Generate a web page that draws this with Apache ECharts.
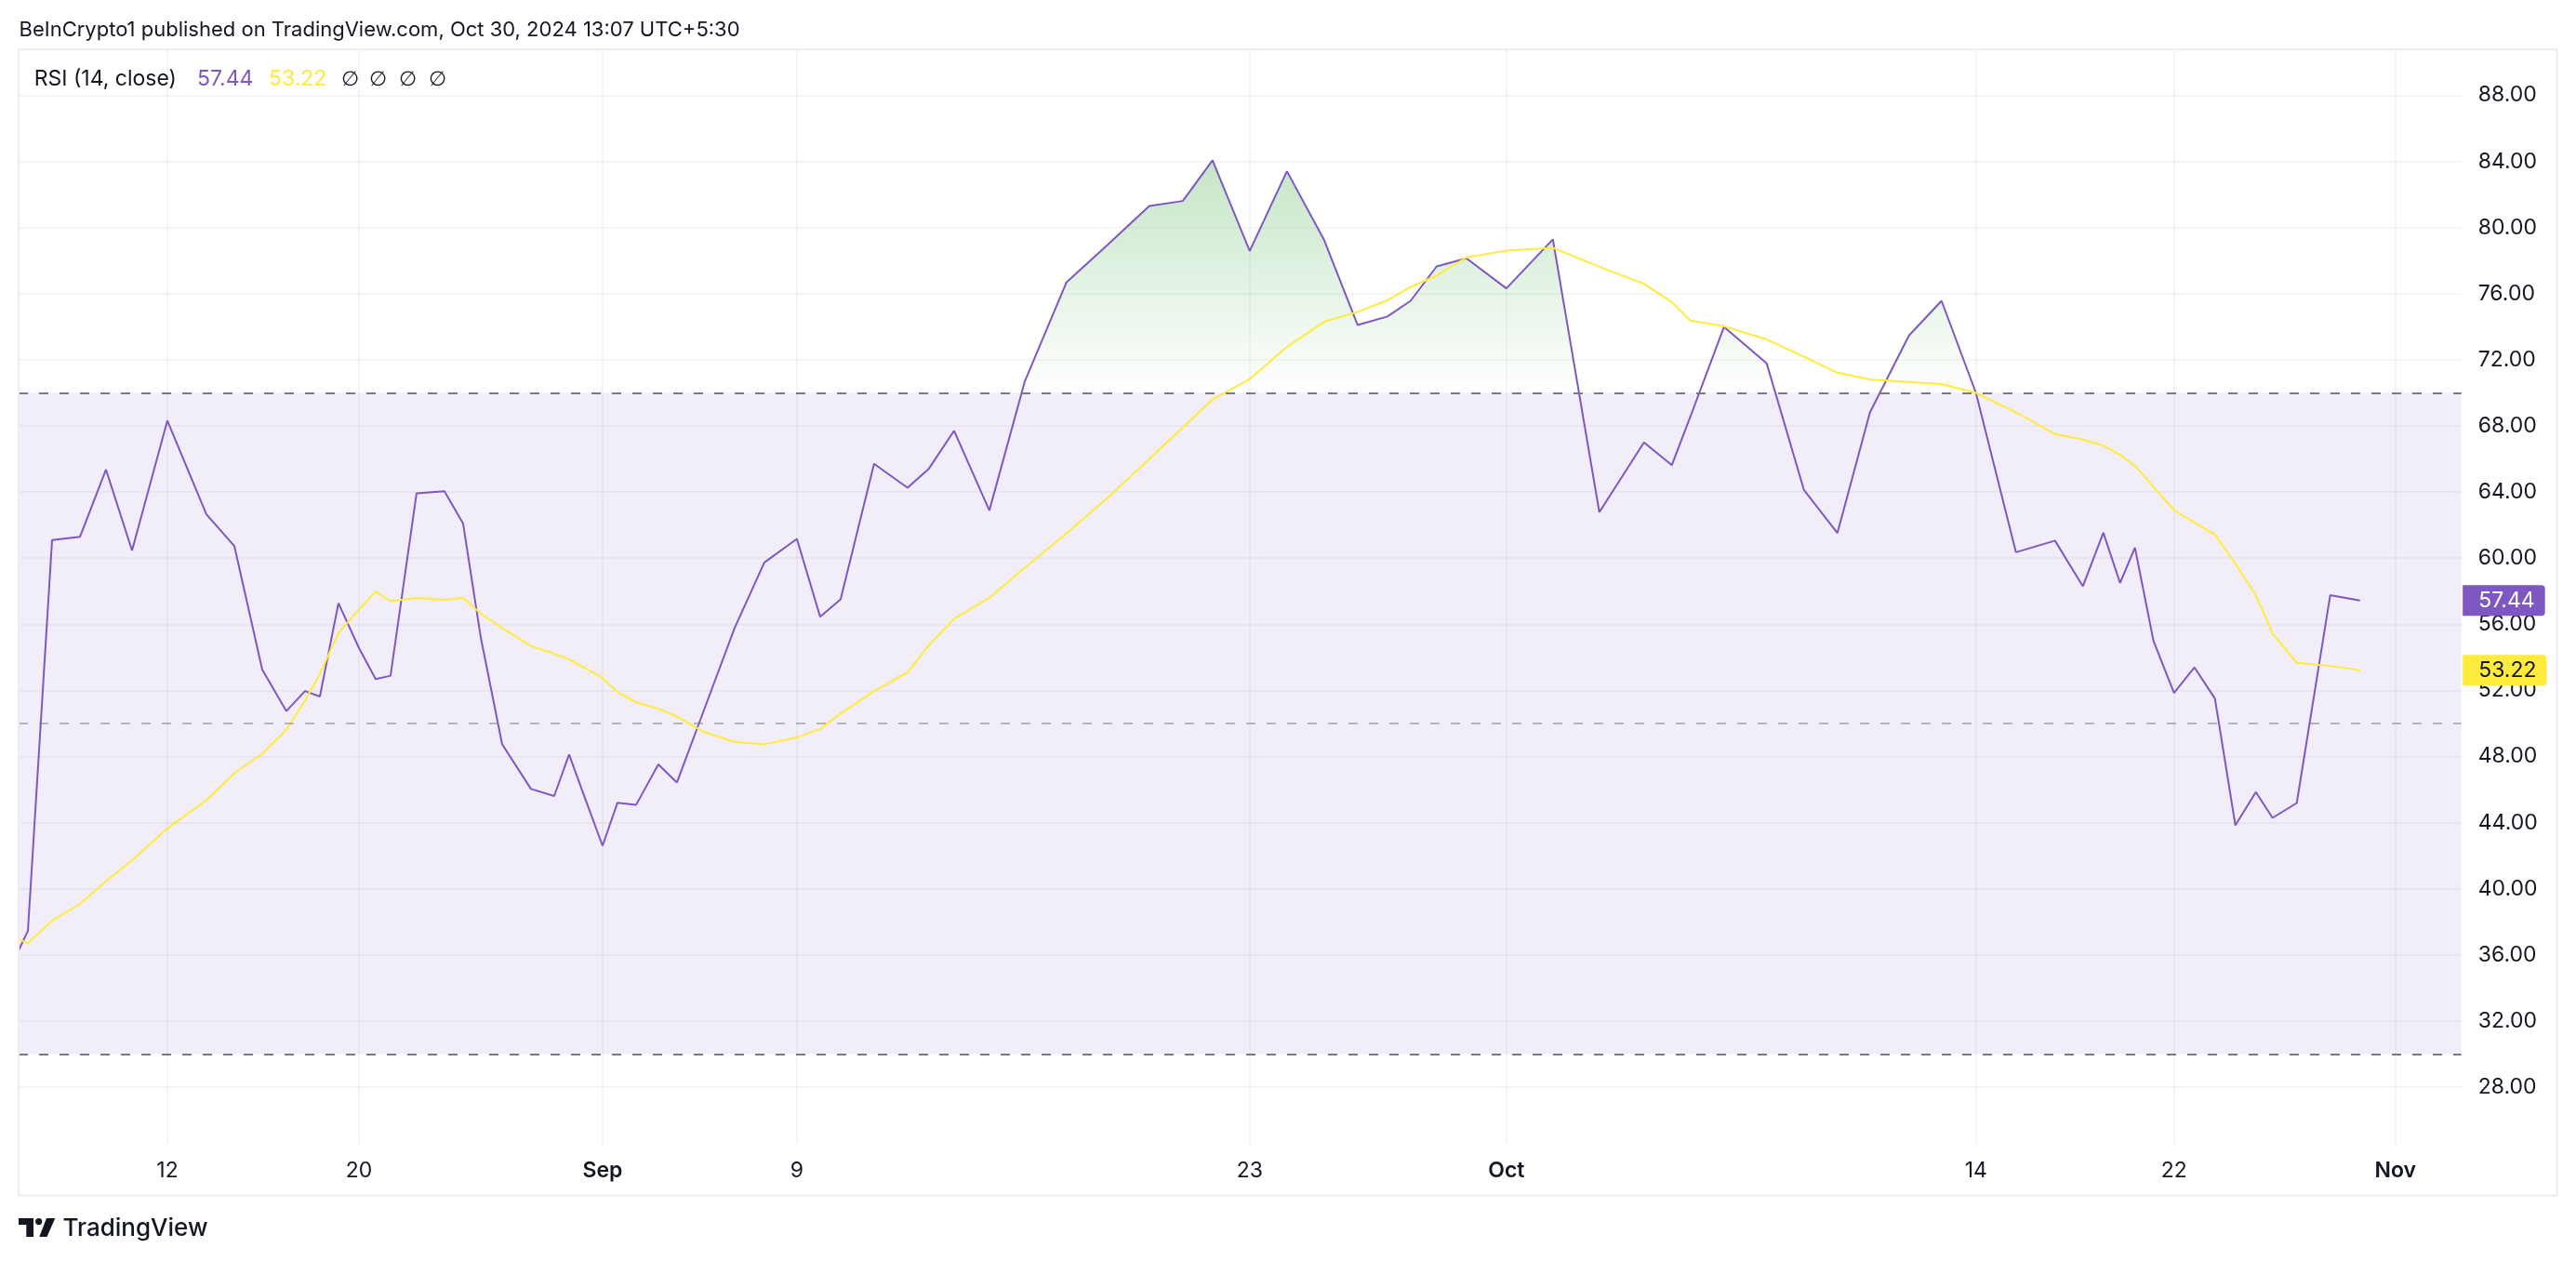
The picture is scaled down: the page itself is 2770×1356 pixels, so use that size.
<!DOCTYPE html>
<html>
<head>
<meta charset="utf-8">
<script src="https://cdn.jsdelivr.net/npm/echarts@6/dist/echarts.min.js"></script>
<style>
html,body{margin:0;padding:0;background:#ffffff;}
#chart{width:2770px;height:1356px;}
</style>
</head>
<body>
<div id="chart"></div>
<script>
// ---------------- data ----------------
const dates = [
 '08-06','08-07','08-08','08-09','08-10','08-11','08-12','08-13','08-14','08-15',
 '08-16','08-17','08-18','08-19','08-20','08-21','08-22','08-23','08-24','08-25',
 '08-26','08-27','08-28','08-29','08-30','08-31','09-01','09-02','09-03','09-04',
 '09-05','09-06','09-07','09-08','09-09','09-10','09-11','09-12','09-13','09-14',
 '09-15','09-16','09-17','09-18','09-19','09-20','09-21','09-22','09-23','09-24',
 '09-25','09-26','09-27','09-28','09-29','09-30','10-01','10-02','10-03','10-04',
 '10-05','10-06','10-07','10-08','10-09','10-10','10-11','10-12','10-13','10-14',
 '10-15','10-16','10-17','10-18','10-19','10-20','10-21','10-22','10-23','10-24',
 '10-25','10-26','10-27','10-28','10-29','10-30'
];
// position of each daily bar on the (non-uniform) time scale
const barPos = [
 0.0,1.0,3.6,6.6,9.4,12.2,16.0,20.2,23.2,26.2,
 28.8,30.8,32.4,34.4,36.6,38.4,40.0,42.8,45.8,47.8,
 49.7,52.0,55.1,57.6,59.2,61.0,62.8,64.4,66.4,68.8,
 70.8,73.7,77.0,80.2,83.7,86.2,88.4,92.0,95.6,97.9,
 100.6,104.4,108.2,112.7,117.2,121.6,125.2,128.4,132.4,136.4,
 140.4,144.0,147.2,149.7,152.5,155.7,160.0,165.0,170.0,174.8,
 177.8,179.8,183.4,188.0,192.0,195.6,199.1,203.3,206.8,210.5,
 214.8,219.0,222.0,224.2,226.0,227.6,229.6,231.8,234.0,236.2,
 238.4,240.6,242.4,245.0,248.6,251.8
];
const rsi = [
 36.27,37.45,61.09,61.29,65.36,60.46,68.32,62.65,60.74,53.26,
 50.75,51.96,51.63,57.28,54.57,52.69,52.89,63.93,64.05,62.10,
 55.22,48.75,46.04,45.61,48.12,45.35,42.60,45.20,45.07,47.52,
 46.43,50.80,55.77,59.74,61.17,56.46,57.51,65.71,64.26,65.42,
 67.71,62.89,70.68,76.70,79.00,81.31,81.61,84.07,78.59,83.41,
 79.25,74.11,74.62,75.57,77.65,78.14,76.32,79.29,62.78,67.00,
 65.63,68.58,73.99,71.78,64.13,61.52,68.82,73.47,75.57,70.00,
 60.36,61.06,58.30,61.54,58.50,60.64,54.98,51.85,53.39,51.51,
 43.84,45.85,44.29,45.19,57.76,57.44
];
const rsiMA = [
 36.95,36.70,38.08,39.08,40.46,41.72,43.65,45.36,46.99,48.17,
 49.62,51.38,53.01,55.47,56.90,57.98,57.40,57.60,57.48,57.60,
 56.65,55.77,54.69,54.22,53.89,53.32,52.76,51.90,51.29,50.89,
 50.42,49.49,48.89,48.74,49.15,49.67,50.60,51.96,53.09,54.74,
 56.33,57.60,59.42,61.50,63.70,66.00,67.90,69.60,70.84,72.78,
 74.30,74.90,75.60,76.40,77.10,78.20,78.60,78.78,77.63,76.60,
 75.49,74.37,74.03,73.23,72.19,71.22,70.81,70.66,70.53,70.00,
 68.82,67.51,67.19,66.81,66.25,65.60,64.31,62.91,62.16,61.43,
 59.67,57.76,55.45,53.67,53.48,53.22
];
const xTickPos    = [16.0, 36.6, 62.8, 83.7, 132.4, 160.0, 210.5, 231.8, 255.6];
const xTickLabels = ['12', '20', 'Sep', '9', '23', 'Oct', '14', '22', 'Nov'];
const monthLabels = ['Sep', 'Oct', 'Nov'];
const yTicks = [28,32,36,40,44,48,52,56,60,64,68,72,76,80,84,88];
const bandUpper = 70, bandMiddle = 50, bandLower = 30;

// ---------------- layout / style ----------------
const W = 2770, H = 1356;
const PANE = {left: 20, top: 53.3, right: 2646.7, bottom: 1230};
const X_MIN = 0, X_MAX = 262.7;
const Y_MIN = 24.57, Y_MAX = 90.77;
const FONT = 'Inter, "Noto Sans", Roboto, sans-serif';
const TXT = '#131722';
const PURPLE = '#7e57c2';
const YELLOW = '#ffeb3b';
const GRIDC = 'rgba(0,0,0,0.055)';

const yPix = v => PANE.top + (Y_MAX - v) / (Y_MAX - Y_MIN) * (PANE.bottom - PANE.top);

const lastRsi = rsi[rsi.length - 1];
const lastMA = rsiMA[rsiMA.length - 1];

const rsiData = barPos.map((x, i) => [x, rsi[i]]);
const maData = barPos.map((x, i) => [x, rsiMA[i]]);

const chart = echarts.init(document.getElementById('chart'), null, {renderer: 'canvas', width: W, height: H});

function tagLabel(bg, fg) {
  return {
    show: true, position: 'end', distance: 1.5,
    formatter: p => Number(p.value).toFixed(2),
    backgroundColor: bg, color: fg,
    fontFamily: FONT, fontSize: 23, lineHeight: 23,
    padding: [5, 11, 5, 17],
    borderRadius: [0, 4, 4, 0]
  };
}

const option = {
  animation: false,
  backgroundColor: '#ffffff',
  grid: {
    left: PANE.left, right: W - PANE.right, top: PANE.top, bottom: H - PANE.bottom,
    containLabel: false, outerBoundsMode: 'none'
  },
  xAxis: {
    type: 'value', min: X_MIN, max: X_MAX,
    axisLine: {show: false}, axisTick: {show: false, customValues: xTickPos},
    splitLine: {show: true, lineStyle: {color: GRIDC, width: 1.5}},
    axisLabel: {
      show: true, customValues: xTickPos, margin: 18,
      fontFamily: FONT, fontSize: 23, color: TXT,
      formatter: function (v) {
        let best = 0, d = Infinity;
        xTickPos.forEach((p, i) => { if (Math.abs(p - v) < d) { d = Math.abs(p - v); best = i; } });
        const t = xTickLabels[best];
        return monthLabels.indexOf(t) >= 0 ? '{m|' + t + '}' : t;
      },
      rich: {m: {fontFamily: FONT, fontSize: 23, fontWeight: 600, color: TXT}}
    }
  },
  yAxis: {
    type: 'value', position: 'right', min: Y_MIN, max: Y_MAX,
    axisLine: {show: false}, axisTick: {show: false, customValues: yTicks},
    splitLine: {show: true, lineStyle: {color: GRIDC, width: 1.5}},
    axisLabel: {
      show: true, customValues: yTicks, margin: 18,
      fontFamily: FONT, fontSize: 23, color: TXT,
      formatter: v => Number(v).toFixed(2)
    }
  },
  series: [
    {
      name: 'levels', type: 'line', data: [], z: 1, silent: true,
      markArea: {
        silent: true,
        itemStyle: {color: 'rgba(126,87,194,0.1)'},
        data: [[{yAxis: bandLower}, {yAxis: bandUpper}]]
      },
      markLine: {
        silent: true, symbol: 'none', label: {show: false},
        data: [
          {yAxis: bandUpper, lineStyle: {color: '#787b86', width: 2, type: [10, 12]}},
          {yAxis: bandMiddle, lineStyle: {color: 'rgba(120,123,134,0.5)', width: 2, type: [10, 12]}},
          {yAxis: bandLower, lineStyle: {color: '#787b86', width: 2, type: [10, 12]}}
        ]
      }
    },
    {
      name: 'RSI', type: 'line', data: rsiData, z: 3,
      showSymbol: false, symbol: 'none', smooth: false,
      lineStyle: {color: PURPLE, width: 2},
      areaStyle: {
        origin: 'start',
        color: {
          type: 'linear', global: true, x: 0, y: yPix(100), x2: 0, y2: yPix(bandUpper),
          colorStops: [
            {offset: 0, color: 'rgba(76,175,80,1)'},
            {offset: 1, color: 'rgba(76,175,80,0)'}
          ]
        }
      },
      markLine: {
        silent: true, symbol: 'none',
        lineStyle: {color: 'rgba(0,0,0,0)', width: 0},
        label: tagLabel(PURPLE, '#ffffff'),
        data: [{yAxis: lastRsi}]
      }
    },
    {
      name: 'RSI-based MA', type: 'line', data: maData, z: 4,
      showSymbol: false, symbol: 'none', smooth: false,
      lineStyle: {color: YELLOW, width: 2},
      markLine: {
        silent: true, symbol: 'none',
        lineStyle: {color: 'rgba(0,0,0,0)', width: 0},
        label: tagLabel(YELLOW, TXT),
        data: [{yAxis: lastMA}]
      }
    }
  ],
  graphic: [
    // frame around the chart
    {type: 'rect', z: 100, silent: true,
     shape: {x: 20, y: 53.3, width: 2729.5, height: 1232.2},
     style: {fill: 'none', stroke: '#ececf1', lineWidth: 2}},
    // published line
    {type: 'text', x: 20.5, y: 32.5, z: 100,
     style: {text: 'BeInCrypto1 published on TradingView.com, Oct 30, 2024 13:07 UTC+5:30',
             fill: TXT, fontSize: 22, fontFamily: FONT, verticalAlign: 'middle', align: 'left'}},
    // indicator legend
    {type: 'text', x: 36.7, y: 85.5, z: 100,
     style: {text: 'RSI (14, close)', fill: TXT, fontSize: 23, fontFamily: FONT, verticalAlign: 'middle'}},
    {type: 'text', x: 212, y: 85.5, z: 100,
     style: {text: lastRsi.toFixed(2), fill: PURPLE, fontSize: 23, fontFamily: FONT, verticalAlign: 'middle'}},
    {type: 'text', x: 289, y: 85.5, z: 100,
     style: {text: lastMA.toFixed(2), fill: YELLOW, fontSize: 23, fontFamily: FONT, verticalAlign: 'middle'}},
    {type: 'text', x: 367, y: 86, z: 100,
     style: {text: '∅', fill: TXT, fontSize: 22, fontFamily: '"DejaVu Sans", sans-serif', verticalAlign: 'middle'}},
    {type: 'text', x: 397, y: 86, z: 100,
     style: {text: '∅', fill: TXT, fontSize: 22, fontFamily: '"DejaVu Sans", sans-serif', verticalAlign: 'middle'}},
    {type: 'text', x: 429, y: 86, z: 100,
     style: {text: '∅', fill: TXT, fontSize: 22, fontFamily: '"DejaVu Sans", sans-serif', verticalAlign: 'middle'}},
    {type: 'text', x: 461, y: 86, z: 100,
     style: {text: '∅', fill: TXT, fontSize: 22, fontFamily: '"DejaVu Sans", sans-serif', verticalAlign: 'middle'}},
    // TradingView logo
    {type: 'rect', z: 100, shape: {x: 20, y: 1310, width: 16, height: 7}, style: {fill: TXT}},
    {type: 'rect', z: 100, shape: {x: 28.3, y: 1310, width: 7.7, height: 20}, style: {fill: TXT}},
    {type: 'circle', z: 100, shape: {cx: 41.7, cy: 1313.6, r: 3.6}, style: {fill: TXT}},
    {type: 'polygon', z: 100, shape: {points: [[50, 1310], [59.3, 1310], [50.5, 1330], [42.3, 1330]]}, style: {fill: TXT}},
    {type: 'text', x: 67.5, y: 1321.5, z: 100,
     style: {text: 'TradingView', fill: TXT, fontSize: 26, fontWeight: 500, fontFamily: FONT, verticalAlign: 'middle'}}
  ]
};
chart.setOption(option);
</script>
</body>
</html>
